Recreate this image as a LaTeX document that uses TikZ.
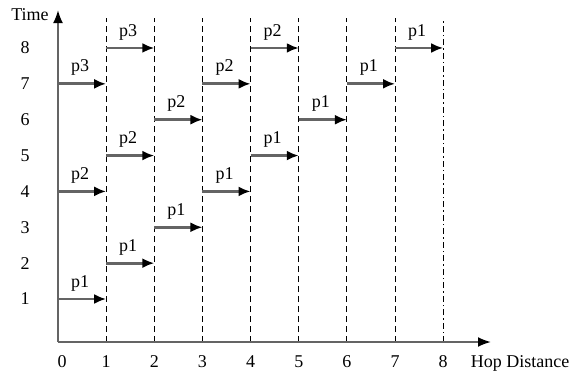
\documentclass[tikz,border=0pt]{standalone}
\usepackage{fontspec}
\setmainfont{Liberation Serif}
\usetikzlibrary{arrows.meta}
\definecolor{axisgray}{RGB}{100,100,100}
\tikzset{
  axisline/.style={draw=axisgray,line width=2pt,-{Latex[black,length=13pt,width=10pt]}},
  hop/.style={draw=axisgray,line width=2.8pt,-{Latex[black,length=12pt,width=10pt]}},
  grid/.style={draw=black,line width=1pt,dash pattern=on 6pt off 4pt},
  griddd/.style={draw=black,line width=1pt,dash pattern=on 6pt off 3pt on 1.5pt off 3pt},
  lbl/.style={font=\fontsize{18}{20}\selectfont,inner sep=0pt},
  plbl/.style={font=\fontsize{18}{20}\selectfont,inner sep=0pt,yshift=16pt}
}
\begin{document}
\begin{tikzpicture}[x=1pt,y=-1pt]
\useasboundingbox (0,0) rectangle (574,381);
% grid coordinates
\foreach \i in {0,...,8} {
  \pgfmathsetmacro{\xx}{58+48.15*\i}
  \coordinate (top\i) at (\xx,18);
  \coordinate (bot\i) at (\xx,342);
  \foreach \j in {1,...,8} {
    \pgfmathsetmacro{\yy}{299-35.86*(\j-1)}
    \coordinate (g\i-\j) at (\xx,\yy);
  }
}
\coordinate (origin) at (58,342);
\coordinate (xend) at (491,342);
\coordinate (yend) at (58,10);
% dashed lines
\foreach \i in {1,...,7} { \draw[grid] (bot\i) -- (top\i); }
\draw[griddd] (bot8) -- (top8);
% axes
\draw[axisline] (origin) -- (xend);
\draw[axisline] (origin) -- (yend);
% axis labels
\node[lbl] (time) at (30,15) {Time};
\node[lbl] (hop) at (520,363) {Hop Distance};
\node[lbl] (x0) at (62,362) {0};
\foreach \i in {1,...,8} {
  \pgfmathsetmacro{\xx}{58+48.15*\i}
  \node[lbl] (x\i) at (\xx,362) {\i};
}
\foreach \j in {1,...,8} {
  \pgfmathsetmacro{\yy}{299-35.86*(\j-1)}
  \node[lbl] (y\j) at (25,\yy) {\j};
}
% hops
\foreach \a/\b/\lev/\p in {0/1/1/p1, 1/2/2/p1, 2/3/3/p1,
  0/1/4/p2, 3/4/4/p1, 1/2/5/p2, 4/5/5/p1, 2/3/6/p2, 5/6/6/p1,
  0/1/7/p3, 3/4/7/p2, 6/7/7/p1, 1/2/8/p3, 4/5/8/p2, 7/8/8/p1} {
  \draw[hop] (g\a-\lev) -- node[plbl,xshift=-2pt] {\p} (g\b-\lev);
}
\end{tikzpicture}
\end{document}
